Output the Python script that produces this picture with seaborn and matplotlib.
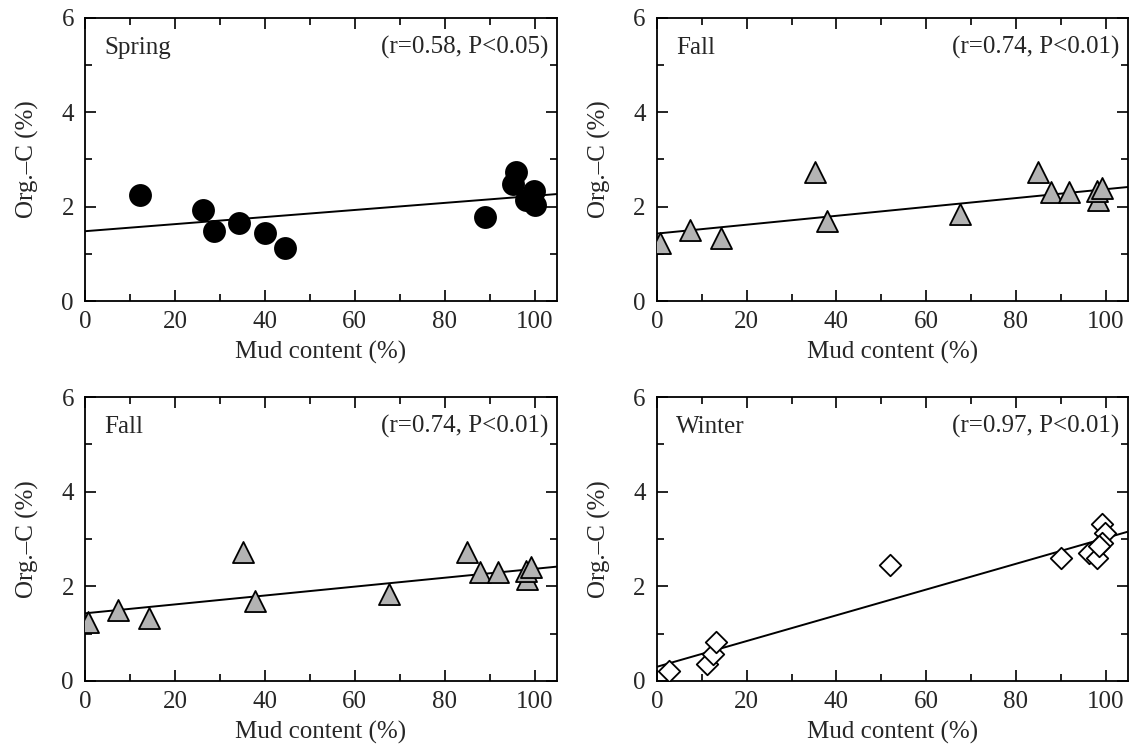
import matplotlib
matplotlib.use("Agg")
import matplotlib.pyplot as plt
import seaborn as sns
import pandas as pd
from matplotlib.ticker import MultipleLocator

# ---- data ----
spring_mud = [12.3, 26.2, 28.8, 34.2, 40.1, 44.4, 89.0, 95.8, 95.3, 99.9, 98.1, 100.0]
spring_orgc = [2.25, 1.93, 1.48, 1.65, 1.44, 1.13, 1.79, 2.74, 2.48, 2.33, 2.14, 2.03]
spring_fit = [1.48, 0.0075]  # intercept, slope

fall_mud = [0.6, 7.3, 14.2, 35.2, 37.8, 67.6, 85.0, 87.9, 91.9, 98.4, 98.1, 99.3]
fall_orgc = [1.24, 1.50, 1.33, 2.73, 1.70, 1.84, 2.73, 2.31, 2.31, 2.15, 2.33, 2.40]
fall_fit = [1.43, 0.0094]

winter_mud = [2.6, 11.1, 12.4, 13.2, 52.0, 90.1, 96.3, 98.0, 99.3, 99.9, 99.3, 98.6]
winter_orgc = [0.22, 0.35, 0.58, 0.83, 2.45, 2.59, 2.70, 2.59, 3.31, 3.12, 2.92, 2.85]
winter_fit = [0.30, 0.0272]

panels = [
    ("Spring", "(r=0.58, P<0.05)", spring_mud, spring_orgc, spring_fit, "o", "black", "black", 230),
    ("Fall", "(r=0.74, P<0.01)", fall_mud, fall_orgc, fall_fit, "^", "#b3b3b3", "black", 230),
    ("Fall", "(r=0.74, P<0.01)", fall_mud, fall_orgc, fall_fit, "^", "#b3b3b3", "black", 230),
    ("Winter", "(r=0.97, P<0.01)", winter_mud, winter_orgc, winter_fit, "D", "white", "black", 120),
]

sns.set_style("white")
plt.rcParams["font.family"] = ["Liberation Serif", "DejaVu Serif"]

FS = 18
fig = plt.figure(figsize=(11.38, 7.47), dpi=100)
positions = [
    [0.0747, 0.597, 0.4148, 0.379],
    [0.5773, 0.597, 0.4139, 0.379],
    [0.0747, 0.0884, 0.4148, 0.380],
    [0.5773, 0.0884, 0.4139, 0.380],
]

for pos, (season, stat, mud, orgc, fit, mk, fc, ec, s) in zip(positions, panels):
    ax = fig.add_axes(pos)
    df = pd.DataFrame({"mud": mud, "orgc": orgc})
    ax.axline((0, fit[0]), slope=fit[1], color="black", lw=1.4, zorder=1)
    sns.scatterplot(data=df, x="mud", y="orgc", ax=ax, marker=mk, s=s,
                    color=fc, edgecolor=ec, linewidth=1.3, zorder=3, legend=False)
    ax.set_xlim(0, 105)
    ax.set_ylim(0, 6)
    ax.xaxis.set_major_locator(MultipleLocator(20))
    ax.xaxis.set_minor_locator(MultipleLocator(10))
    ax.yaxis.set_major_locator(MultipleLocator(2))
    ax.yaxis.set_minor_locator(MultipleLocator(1))
    ax.tick_params(which="both", direction="in", top=True, right=True,
                   bottom=True, left=True, labelsize=FS, color="black", width=1.2)
    ax.tick_params(which="major", length=8)
    ax.tick_params(axis="x", which="major", pad=7)
    ax.tick_params(axis="y", which="major", pad=8)
    ax.tick_params(which="minor", length=5)
    for sp in ax.spines.values():
        sp.set_color("black")
        sp.set_linewidth(1.3)
    ax.set_xlabel("Mud content (%)", fontsize=FS, labelpad=6)
    ax.set_ylabel("Org.–C (%)", fontsize=FS, labelpad=16)
    ax.text(0.04, 0.895, season, transform=ax.transAxes, fontsize=FS, va="center", ha="left")
    ax.text(0.982, 0.895, stat, transform=ax.transAxes, fontsize=FS, va="center", ha="right")

fig.savefig("out.png", dpi=100)
